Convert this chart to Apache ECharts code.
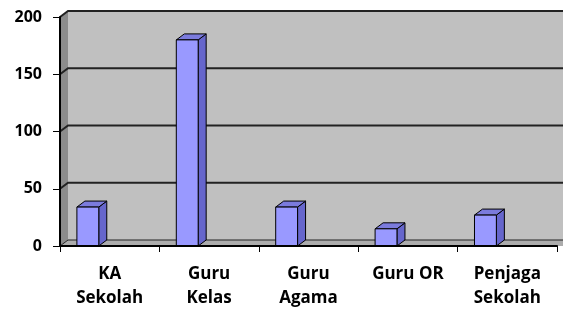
<!DOCTYPE html>
<html>
<head>
<meta charset="utf-8">
<script src="https://cdn.jsdelivr.net/npm/echarts@6/dist/echarts.min.js"></script>
<style>
  html, body { margin: 0; padding: 0; background: #fff; }
  #chart { width: 563px; height: 310px; }
</style>
</head>
<body>
<div id="chart"></div>
<script>
var categories = ['KA\nSekolah', 'Guru\nKelas', 'Guru\nAgama', 'Guru OR', 'Penjaga\nSekolah'];
var values = [34, 180, 34, 15, 27];
var yTicks = [0, 50, 100, 150, 200];

// depth offset of the 3d box
var DX = 8, DY = -6;
var labelFont = { fontFamily: 'Open Sans', fontWeight: 'bold', color: '#000' };

function renderWalls(params, api) {
    var cs = params.coordSys;
    var L = cs.x, T = cs.y, R = cs.x + cs.width, B = cs.y + cs.height;
    var kids = [];
    kids.push({ type: 'rect', shape: { x: L + DX, y: T + DY, width: R - L + 10, height: B - T },
        style: { fill: '#c0c0c0' } });
    kids.push({ type: 'polygon', shape: { points: [[L, T], [L + DX, T + DY], [L + DX, B + DY], [L, B]] },
        style: { fill: '#8c8c8c' } });
    kids.push({ type: 'polygon', shape: { points: [[L, B], [L + DX, B + DY], [R + DX + 10, B + DY], [R + 10, B]] },
        style: { fill: '#acacac' } });
    yTicks.forEach(function (v) {
        var y = api.coord([0, v])[1];
        kids.push({ type: 'polyline', shape: { points: [[L, y], [L + DX, y + DY], [R + DX + 10, y + DY]] },
            style: { stroke: '#222', lineWidth: v === 0 ? 1 : 2, fill: null } });
    });
    return { type: 'group', children: kids };
}

function renderBar(params, api) {
    var idx = api.value(0);
    var top = api.coord([idx, api.value(1)]);
    var base = api.coord([idx, 0]);
    var bw = api.size([1, 0])[0];
    var w = bw * 0.22;
    var x0 = top[0] - bw * 0.22 - w / 2;
    var x1 = x0 + w;
    var yt = top[1], yb = base[1];
    var line = { stroke: '#000', lineWidth: 1 };
    return {
        type: 'group',
        children: [
            { type: 'polygon', shape: { points: [[x1, yt], [x1 + DX, yt + DY], [x1 + DX, yb + DY], [x1, yb]] },
              style: Object.assign({ fill: '#6666cc' }, line) },
            { type: 'polygon', shape: { points: [[x0, yt], [x0 + DX, yt + DY], [x1 + DX, yt + DY], [x1, yt]] },
              style: Object.assign({ fill: '#7b7bdd' }, line) },
            { type: 'rect', shape: { x: x0, y: yt, width: w, height: yb - yt },
              style: Object.assign({ fill: '#9999ff' }, line) }
        ]
    };
}

var chart = echarts.init(document.getElementById('chart'));
chart.setOption({
    backgroundColor: '#fff',
    animation: false,
    grid: { left: 60, right: 6, top: 17, bottom: 63 },
    xAxis: {
        type: 'category',
        data: categories,
        z: 5,
        axisLine: { show: true, lineStyle: { color: '#000', width: 2 } },
        axisTick: { show: true, length: 6, lineStyle: { color: '#000' } },
        axisLabel: Object.assign({ interval: 0, margin: 16, lineHeight: 24, fontSize: 17 }, labelFont),
        splitLine: { show: false }
    },
    yAxis: {
        type: 'value',
        min: 0, max: 200, interval: 50,
        z: 5,
        axisLine: { show: true, lineStyle: { color: '#000', width: 2 } },
        axisTick: { show: true, length: 7, lineStyle: { color: '#000' } },
        axisLabel: Object.assign({ margin: 18, fontSize: 16 }, labelFont),
        splitLine: { show: false }
    },
    series: [
        { type: 'custom', z: 1, renderItem: renderWalls, data: [[0, 0]], silent: true },
        { type: 'custom', z: 3, renderItem: renderBar,
          data: values.map(function (v, i) { return [i, v]; }) }
    ]
});
</script>
</body>
</html>
